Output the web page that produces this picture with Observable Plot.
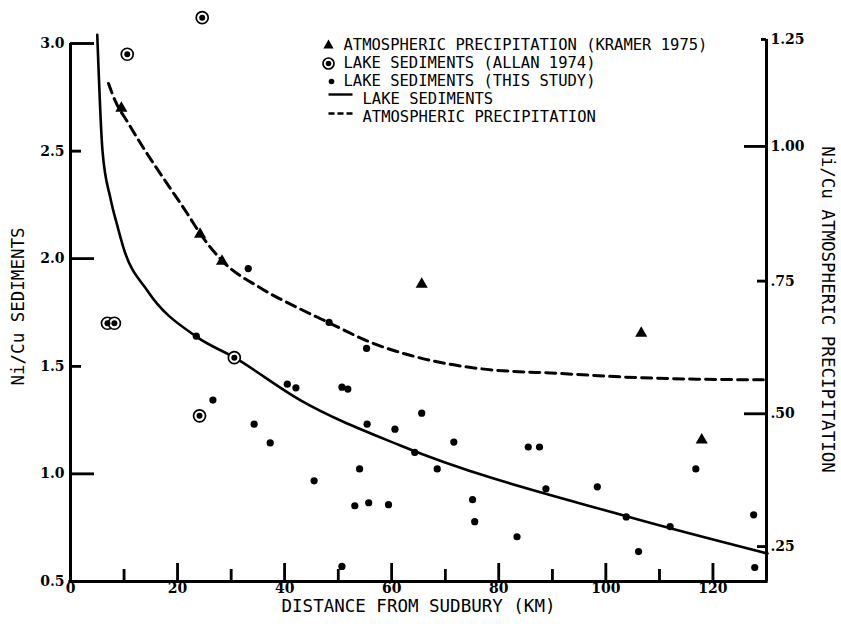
<!DOCTYPE html>
<html>
<head>
<meta charset="utf-8">
<script src="https://cdn.jsdelivr.net/npm/d3@7"></script>
<script src="https://cdn.jsdelivr.net/npm/@observablehq/plot@0.6"></script>
<style>
  body { margin: 0; background: #fff; }
  #chart { position: relative; width: 841px; height: 624px; }
  #chart svg { position: absolute; left: 0; top: 0; color: #000; }
</style>
</head>
<body>
<div id="chart"></div>
<script>
// ---------- data (x: distance from Sudbury, km) ----------
// Lake sediments, this study (Ni/Cu on left axis)
const studyX = [23.5, 26.6, 33.2, 34.3, 37.3, 40.5, 42.1, 45.5, 48.3, 50.7, 51.8, 50.7, 53.1, 54.0, 55.3, 55.4, 55.7, 59.4, 60.6, 64.3, 65.6, 68.5, 71.6, 75.1, 75.5, 83.4, 85.5, 87.6, 88.8, 98.4, 103.8, 106.1, 112.0, 116.8, 127.6, 127.8];
const studyY = [1.64, 1.343, 1.954, 1.231, 1.144, 1.417, 1.40, 0.968, 1.704, 1.403, 1.394, 0.57, 0.852, 1.023, 1.583, 1.231, 0.866, 0.857, 1.208, 1.10, 1.282, 1.023, 1.148, 0.880, 0.778, 0.708, 1.125, 1.125, 0.931, 0.94, 0.80, 0.639, 0.755, 1.023, 0.81, 0.565];
// Lake sediments, Allan 1974 (left axis)
const allanX = [24.6, 10.6, 6.9, 8.2, 30.6, 24.1];
const allanY = [3.12, 2.95, 1.70, 1.70, 1.54, 1.27];
// Atmospheric precipitation, Kramer 1975 (right axis)
const kramerX = [9.5, 24.2, 28.3, 65.6, 106.6, 117.9];
const kramerR = [1.089, 0.837, 0.787, 0.744, 0.652, 0.451];
// Fitted curve, lake sediments (left axis)
const sedCurveX = [5.0, 5.98, 7.47, 8.78, 9.9, 14.4, 23.5, 30.6, 42.9, 61.6, 104.0, 130.2];
const sedCurveY = [3.04, 2.50, 2.28, 2.15, 2.05, 1.85, 1.638, 1.541, 1.343, 1.132, 0.802, 0.630];
// Fitted curve, atmospheric precipitation (right axis)
const atmCurveX = [7.1, 8.4, 10.6, 14.4, 18.1, 21.9, 24.3, 28.4, 35.5, 43.0, 48.4, 55.5, 65.4, 76.6, 91.5, 106.5, 129.4];
const atmCurveR = [1.147, 1.105, 1.058, 0.985, 0.930, 0.874, 0.837, 0.787, 0.737, 0.697, 0.671, 0.637, 0.605, 0.585, 0.576, 0.568, 0.564];

// ---------- axes ----------
const xLabels = [0, 20, 40, 60, 80, 100, 120];
const yLabels = [0.5, 1.0, 1.5, 2.0, 2.5, 3.0];
const rightValues = [0.25, 0.50, 0.75, 1.00, 1.25];
const rightLabels = [".25", ".50", ".75", "1.00", "1.25"];
// where each right-axis value sits on the left (sediment) scale, as drawn in the figure
const rightOnLeft = [0.662, 1.279, 1.896, 2.522, 3.019];
const precipToSed = d3.scaleLinear().domain(rightValues).range(rightOnLeft);

const legendLabels = [
  "ATMOSPHERIC PRECIPITATION (KRAMER 1975)",
  "LAKE SEDIMENTS (ALLAN 1974)",
  "LAKE SEDIMENTS (THIS STUDY)",
  "LAKE SEDIMENTS",
  "ATMOSPHERIC PRECIPITATION"
];

const study = studyX.map((x, i) => ({x, y: studyY[i]}));
const allan = allanX.map((x, i) => ({x, y: allanY[i]}));
const kramer = kramerX.map((x, i) => ({x, r: kramerR[i]}));
const sedCurve = sedCurveX.map((x, i) => ({x, y: sedCurveY[i]}));
const atmCurve = atmCurveX.map((x, i) => ({x, r: atmCurveR[i]}));

// ---------- layout ----------
const WIDTH = 841, HEIGHT = 624;
const ML = 70, MR = 75, MT = 43, MB = 43;
const FW = WIDTH - ML - MR, FH = HEIGHT - MT - MB;
const X0 = 0, X1 = 130, Y0 = 0.5, Y1 = 3.0;
const kmPerPx = (X1 - X0) / FW, ratioPerPx = (Y1 - Y0) / FH;

// tick positions derived from the label arrays
const leftMajor = yLabels.filter(d => Number.isInteger(d) && d > Y0);
const leftMinor = yLabels.filter(d => !Number.isInteger(d) && d > Y0);
const bottomMajor = xLabels.filter(d => d > X0);
const bottomMinor = bottomMajor.map(d => d - 10);
const rightLong = rightValues.filter((d, i) => i % 2 === 1);
const rightShort = rightValues.filter((d, i) => i % 2 === 0 && i < rightValues.length - 1);
const rightTop = rightValues.slice(-1);

const tickFont = {fontFamily: "DejaVu Serif", fontWeight: "bold", fontSize: 14, fill: "black"};
const titleFont = {fontFamily: "DejaVu Sans Mono", fontSize: 17.5, fill: "black", textAnchor: "middle", lineAnchor: "middle"};
const legFont = {fontFamily: "DejaVu Sans Mono", fontSize: 15.5, fill: "black"};
const lineSym = {draw(ctx) { ctx.moveTo(-12, 0); ctx.lineTo(12, 0); }};
const AX = 2.8, TK = 2.5;

function frameAndTicks() {
  return [
    Plot.ruleX([X0], {y1: Y0, y2: Y1, stroke: "black", strokeWidth: AX}),
    Plot.ruleY([Y0], {x1: X0, x2: X1, stroke: "black", strokeWidth: AX, strokeLinecap: "square"}),
    Plot.ruleX([X1], {y1: Y0, y2: precipToSed(1.25), stroke: "black", strokeWidth: AX}),
    Plot.ruleY(leftMajor, {x1: X0, x2: X0 + 24 * kmPerPx, stroke: "black", strokeWidth: TK}),
    Plot.ruleY(leftMinor, {x1: X0, x2: X0 + 11 * kmPerPx, stroke: "black", strokeWidth: TK}),
    Plot.ruleX(bottomMajor, {y1: Y0, y2: Y0 + 18 * ratioPerPx, stroke: "black", strokeWidth: TK}),
    Plot.ruleX(bottomMinor, {y1: Y0, y2: Y0 + 12 * ratioPerPx, stroke: "black", strokeWidth: TK}),
    Plot.ruleY(rightLong.map(precipToSed), {x1: X1 - 22 * kmPerPx, x2: X1, stroke: "black", strokeWidth: TK}),
    Plot.ruleY(rightShort.map(precipToSed), {x1: X1 - 9 * kmPerPx, x2: X1, stroke: "black", strokeWidth: TK}),
    Plot.ruleY(rightTop.map(precipToSed), {x1: X1 - 5 * kmPerPx, x2: X1, stroke: "black", strokeWidth: TK})
  ];
}

const marks = [
  // tick labels
  Plot.text(yLabels, {y: d => d, text: d => d3.format(".1f")(d), frameAnchor: "left", dx: -6, textAnchor: "end", lineAnchor: "middle", ...tickFont}),
  Plot.text(xLabels, {x: d => d, text: d => String(d), frameAnchor: "bottom", dy: 2, lineAnchor: "top", textAnchor: "middle", ...tickFont}),
  Plot.text(rightValues, {y: d => precipToSed(d), text: (d, i) => rightLabels[i], frameAnchor: "right", dx: 4, textAnchor: "start", lineAnchor: "middle", ...tickFont}),
  // axis titles
  Plot.text(["DISTANCE FROM SUDBURY (KM)"], {x: null, y: null, text: d => d, frameAnchor: "bottom", dy: 25, ...titleFont}),
  Plot.text(["Ni/Cu SEDIMENTS"], {x: null, y: null, text: d => d, frameAnchor: "left", dx: -52, dy: -6, rotate: -90, ...titleFont}),
  Plot.text(["Ni/Cu ATMOSPHERIC PRECIPITATION"], {x: null, y: null, text: d => d, frameAnchor: "right", dx: 61, dy: -3, rotate: 90, ...titleFont}),
  // curves
  Plot.line(sedCurve, {x: "x", y: "y", curve: "monotone-x", stroke: "black", strokeWidth: 2.6}),
  Plot.line(atmCurve, {x: "x", y: d => precipToSed(d.r), curve: "monotone-x", stroke: "black", strokeWidth: 3, strokeDasharray: "10,6"}),
  // points
  Plot.dot(study, {x: "x", y: "y", r: 3.6, fill: "black"}),
  Plot.dot(allan, {x: "x", y: "y", r: 6, fill: "white", stroke: "black", strokeWidth: 1.7}),
  Plot.dot(allan, {x: "x", y: "y", r: 3, fill: "black"}),
  Plot.dot(kramer, {x: "x", y: d => precipToSed(d.r), symbol: "triangle", r: 4.5, fill: "black"}),
  // legend symbols
  Plot.dot([0], {x: null, y: null, frameAnchor: "top-left", dx: 258, dy: 2, symbol: "triangle", r: 3.8, fill: "black"}),
  Plot.dot([0], {x: null, y: null, frameAnchor: "top-left", dx: 258, dy: 20, r: 5.5, fill: "white", stroke: "black", strokeWidth: 1.7}),
  Plot.dot([0], {x: null, y: null, frameAnchor: "top-left", dx: 258, dy: 20, r: 2.8, fill: "black"}),
  Plot.dot([0], {x: null, y: null, frameAnchor: "top-left", dx: 261, dy: 38, r: 2.8, fill: "black"}),
  Plot.dot([0], {x: null, y: null, frameAnchor: "top-left", dx: 270, dy: 51, symbol: lineSym, fill: "none", stroke: "black", strokeWidth: 2.4}),
  Plot.dot([0], {x: null, y: null, frameAnchor: "top-left", dx: 270, dy: 70, symbol: lineSym, fill: "none", stroke: "black", strokeWidth: 2.4, strokeDasharray: "6,3"}),
  // legend labels
  ...legendLabels.map((t, i) => Plot.text([t], {x: null, y: null, text: d => d, frameAnchor: "top-left",
    dx: i < 3 ? 273 : 292, dy: 2 + i * 18, textAnchor: "start", lineAnchor: "middle", ...legFont})),
  ...frameAndTicks()
];

const common = {
  width: WIDTH, height: HEIGHT,
  marginLeft: ML, marginRight: MR, marginTop: MT, marginBottom: MB,
  x: {domain: [X0, X1], axis: null},
  y: {domain: [Y0, Y1], axis: null}
};

const chart = Plot.plot({...common, style: {background: "#fff", color: "#000", overflow: "visible"}, marks});
// axis frame and ticks again on a transparent layer with the same scales
const frameLayer = Plot.plot({...common, style: {background: "none", color: "#000", overflow: "visible"}, marks: frameAndTicks()});
frameLayer.style.pointerEvents = "none";
document.getElementById("chart").append(chart, frameLayer);
</script>
</body>
</html>
